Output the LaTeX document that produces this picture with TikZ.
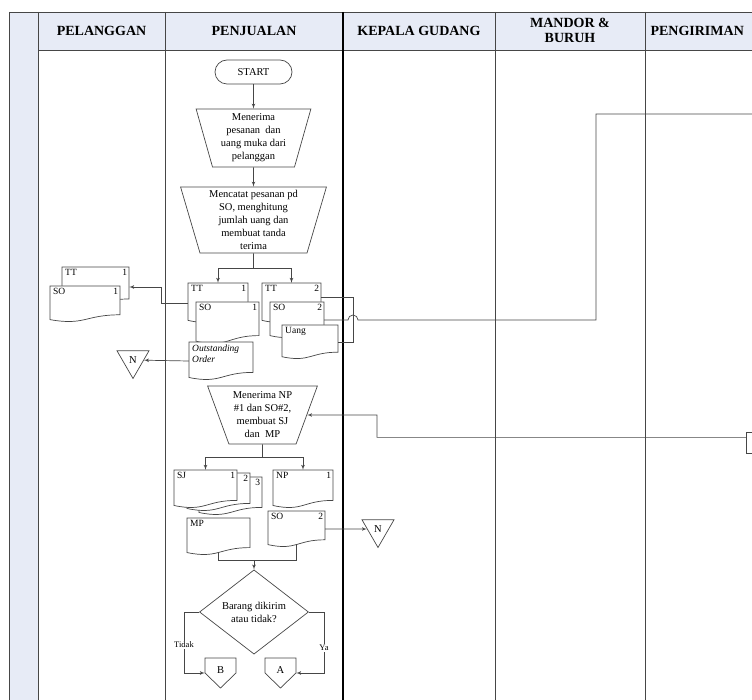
\documentclass[tikz,border=0pt]{standalone}
\usepackage{fontspec}
\setmainfont{Liberation Serif}
\usetikzlibrary{arrows,shapes.geometric}

\definecolor{kepala}{RGB}{231,235,246}
\definecolor{garis}{RGB}{70,70,70}

\newcommand{\dokumen}[6]{%
  \pgfmathsetmacro\dxa{#2}\pgfmathsetmacro\dxb{#2+#4}\pgfmathsetmacro\dxm{#2+0.5*#4}
  \pgfmathsetmacro\dyr{#3+0.8*#5}\pgfmathsetmacro\dyc{#3+1.107*#5}
  \pgfmathsetmacro\dyl{#3+0.934*#5}\pgfmathsetmacro\dym{#3+0.5*#5}
  \pgfmathsetmacro\dtw{#4-5}
  \filldraw[dok] (\dxa,#3) -- (\dxb,#3) -- (\dxb,\dyr)
    .. controls (\dxm,\dyr) and (\dxm,\dyc) .. (\dxa,\dyl) -- cycle;
  \node[minimum width=#4, minimum height=#5, inner sep=0] (#1) at (\dxm,\dym) {};
  \node[teksdok, text width=\dtw pt, anchor=north west] (#1t) at (\dxa+2,#3+1.5) {#6};
}
\newcommand{\konektor}[4]{%
  \filldraw[dok] (#2-15.5,#3) -- (#2+15.5,#3) -- (#2+15.5,#3+15) -- (#2,#3+30)
    -- (#2-15.5,#3+15) -- cycle;
  \node[minimum width=31, minimum height=30, inner sep=0] (#1) at (#2,#3+15) {\raisebox{5pt}{#4}};
}

\begin{document}
\begin{tikzpicture}[x=1pt,y=-1pt,>=latex',
    every node/.style={font=\fontsize{10.5}{13}\selectfont},
    judul/.style={font=\fontsize{14}{15}\selectfont\bfseries, align=center},
    lane/.style={draw=garis, line width=0.9pt},
    alur/.style={draw=garis, line width=0.7pt},
    dok/.style={draw=garis, line width=0.7pt, fill=white},
    teksdok/.style={inner sep=1pt, font=\fontsize{9.5}{11}\selectfont},
    terminal/.style={rectangle, rounded corners=12pt, draw=garis, line width=0.7pt,
      minimum width=77pt, minimum height=24pt},
    proses/.style={trapezium, shape border rotate=180, trapezium stretches=true,
      draw=garis, line width=0.7pt, align=center, inner sep=1pt},
    keputusan/.style={diamond, draw=garis, line width=0.7pt, minimum width=109pt,
      minimum height=70pt, inner sep=0pt, align=center},
    offpage/.style={regular polygon, regular polygon sides=3, shape border rotate=180,
      draw=garis, line width=0.7pt, minimum size=37pt, inner sep=0pt}]

  \useasboundingbox (0,0) rectangle (752,700);
  \clip (0,0) rectangle (752,700);

  \fill[kepala] (38,12) rectangle (752,50);
  \fill[kepala] (9,12) rectangle (38,700);
  \draw[lane] (9,12) -- (752,12);
  \draw[lane] (38,50) -- (752,50);
  \foreach \x in {9,38,165,495,645}
    \draw[lane] (\x,12) -- (\x,700);
  \draw[line width=1.3pt] (343,12) -- (343,700);

  \node[judul] (hpel) at (101.5,31) {PELANGGAN};
  \node[judul] (hpen) at (254,31) {PENJUALAN};
  \node[judul] (hkep) at (419,31) {KEPALA GUDANG};
  \node[judul] (hman) at (570,30) {MANDOR \&\\BURUH};
  \node[judul, anchor=west] (hpeng) at (647,31) {PENGIRIMAN};

  \node[terminal] (start) at (253.5,72) {START};
  \node[proses, minimum width=115pt, minimum height=58pt,
    trapezium left angle=75, trapezium right angle=75]
    (trap1) at (253.5,138) {Menerima\\pesanan~ dan\\uang muka dari\\pelanggan};
  \node[proses, minimum width=146pt, minimum height=66pt,
    trapezium left angle=75, trapezium right angle=75]
    (trap2) at (253.5,220) {Mencatat pesanan pd\\SO, menghitung\\jumlah uang dan\\membuat tanda\\terima};

  \dokumen{ptt}{62}{267}{67}{40}{TT\hfill 1}
  \dokumen{pso}{50}{286}{70}{36}{SO\hfill 1}
  \dokumen{tt1}{188}{283}{60}{40}{TT\hfill 1}
  \dokumen{so1}{196}{302}{63}{42}{SO\hfill 1}
  \dokumen{tt2}{262}{283}{59}{40}{TT\hfill 2}
  \dokumen{so2}{270}{302}{54}{36}{SO\hfill 2}
  \dokumen{uang}{282}{325}{56}{34}{Uang}
  \dokumen{oo}{189}{342}{64}{38}{\itshape Outstanding\\Order}

  \node[offpage] (n1) at (133,360) {N};

  \node[proses, minimum width=111pt, minimum height=58pt,
    trapezium left angle=68, trapezium right angle=68]
    (trap3) at (262.5,415) {Menerima NP\\\#1 dan SO\#2,\\membuat SJ\\dan~ MP};

  \dokumen{sj3}{199}{477}{63}{38}{\hfill 3}
  \dokumen{sj2}{187}{473}{63}{38}{\hfill 2}
  \dokumen{sj1}{174}{470}{63}{38}{SJ\hfill 1}
  \dokumen{np}{273}{470}{60}{38}{NP\hfill 1}
  \dokumen{mp}{187}{518}{63}{37}{MP}
  \dokumen{so2b}{268}{511}{57}{36}{SO\hfill 2}

  \node[offpage] (n2) at (378,529) {N};
  \node[keputusan] (putus) at (254,612) {Barang dikirim\\atau tidak?};
  \konektor{konB}{220.5}{658}{B}
  \konektor{konA}{280.5}{658}{A}
  \node[draw=garis, line width=0.7pt, minimum width=20pt, minimum height=21pt,
    inner sep=0, anchor=north west] (kotakkanan) at (746,432) {};

  \coordinate (cabang1) at (253.5,268);
  \coordinate (cabang2) at (262.5,457);
  \coordinate (gabung) at (254,560);
  \coordinate (kirim) at (353,0);
  \coordinate (lompat) at (348,320);
  \coordinate (naik) at (596,320);
  \coordinate (keluar) at (760,114);
  \coordinate (belok) at (377,415);
  \coordinate (kiri) at (184,673);
  \coordinate (kanan) at (324,673);

  \draw[alur,->] (start) -- (trap1);
  \draw[alur,->] (trap1) -- (trap2);
  \draw[alur] (trap2.south) -- (cabang1);
  \draw[alur,->] (cabang1) -| (tt1.north);
  \draw[alur,->] (cabang1) -| (tt2.north);
  \draw[alur,->] (tt1.west) -- ++(-26,0) |- (ptt.east);
  \draw[alur,->] (oo.west) -- (n1);
  \draw[alur] ([yshift=6pt]tt2.east) -| (kirim |- uang.east) -- (uang.east);
  \draw[alur] (so2.east) -- (lompat) arc[start angle=180, end angle=0, radius=5pt]
    -- (naik) |- (keluar);
  \draw[alur,->] ([yshift=5.5pt]kotakkanan.west) -| (belok) -- (trap3.east);
  \draw[alur] (trap3.south) -- (cabang2);
  \draw[alur,->] (cabang2) -| (sj1.north);
  \draw[alur,->] (cabang2) -| (np.north);
  \draw[alur,->] (so2b.east) -- (n2);
  \draw[alur] ([yshift=3pt]mp.south) -- (mp.south |- gabung) -- (so2b.south |- gabung)
    -- ([yshift=3pt]so2b.south);
  \draw[alur,->] (gabung) -- (putus.north);
  \draw[alur,->] (putus.west) -| (kiri) -- (konB);
  \draw[alur,->] (putus.east) -| (kanan) -- (konA);

  \node[fill=white, inner sep=1pt, font=\fontsize{8.5}{9}\selectfont] (tidak) at (184,645) {Tidak};
  \node[fill=white, inner sep=1pt, font=\fontsize{8.5}{9}\selectfont] (ya) at (324,648) {Ya};
\end{tikzpicture}
\end{document}
